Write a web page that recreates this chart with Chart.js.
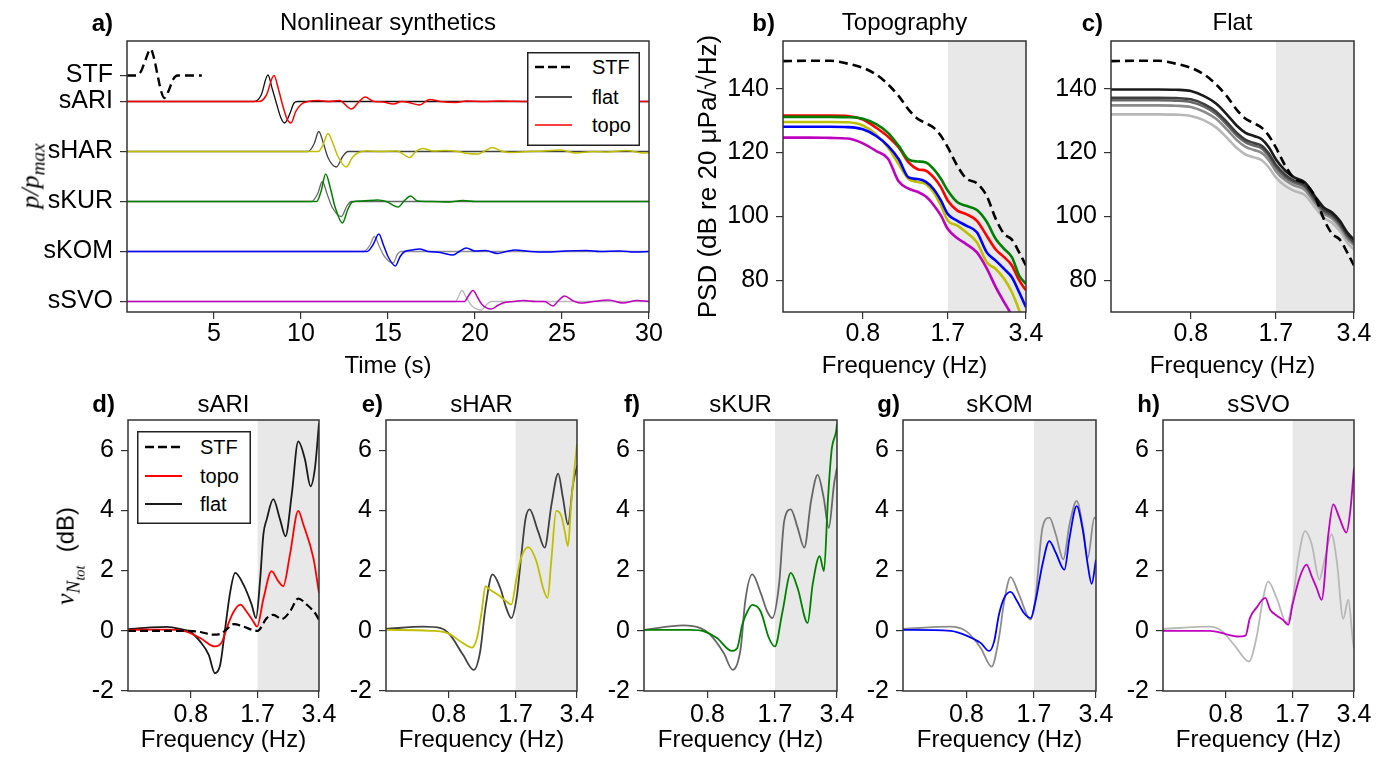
<!DOCTYPE html>
<html>
<head>
<meta charset="utf-8">
<script src="https://cdn.jsdelivr.net/npm/chart.js"></script>
<style>
  body { margin: 0; width: 1387px; height: 761px; overflow: hidden; background: #fff; position: relative;
         font-family: 'Liberation Sans', Arial, Helvetica, sans-serif; }
  canvas { position: absolute; }
  .let { position: absolute; width: 40px; text-align: right; font-size: 24px; font-weight: bold; line-height: 28.8px; }
  .ytitle { position: absolute; transform: translate(-50%, -50%) rotate(-90deg); white-space: nowrap; font-size: 24px; line-height: 28.8px; }
  .math { font-family: 'Liberation Serif', 'DejaVu Serif', serif; font-style: italic; }
  sub { font-size: 0.74em; }
  svg { position: absolute; }
</style>
</head>
<body>

<canvas id="chA" width="671" height="382" style="left:0px;top:0px"></canvas>
<canvas id="chB" width="357" height="382" style="left:691px;top:0px"></canvas>
<canvas id="chC" width="325" height="382" style="left:1051px;top:0px"></canvas>
<canvas id="chD" width="273" height="386" style="left:68px;top:375px"></canvas>
<canvas id="chE" width="273" height="386" style="left:326px;top:375px"></canvas>
<canvas id="chF" width="275" height="386" style="left:584px;top:375px"></canvas>
<canvas id="chG" width="275" height="386" style="left:843px;top:375px"></canvas>
<canvas id="chH" width="273" height="386" style="left:1103px;top:375px"></canvas>

<div class="let" style="left:73px;top:9px">a)</div>
<div class="let" style="left:735px;top:9px">b)</div>
<div class="let" style="left:1063px;top:9px">c)</div>
<div class="let" style="left:75px;top:390px">d)</div>
<div class="let" style="left:343px;top:390px">e)</div>
<div class="let" style="left:600px;top:390px">f)</div>
<div class="let" style="left:860px;top:390px">g)</div>
<div class="let" style="left:1120px;top:390px">h)</div>

<div class="ytitle math" style="left:35px;top:176px;font-size:26px">p/p<sub>max</sub></div>
<div class="ytitle" style="left:73px;top:556px"><span class="math" style="font-size:26px">ν<sub>N<sub>tot</sub></sub></span>&nbsp;&nbsp;(dB)</div>

<svg style="left:527px;top:52px" width="113" height="94">
  <rect x="0.75" y="0.75" width="111.5" height="92.5" fill="#fff" stroke="#222" stroke-width="1.5"/>
  <line x1="8" y1="15" x2="45" y2="15" stroke="#000" stroke-width="2.5" stroke-dasharray="9 4"/>
  <line x1="8" y1="45" x2="45" y2="45" stroke="#111" stroke-width="1.5"/>
  <line x1="8" y1="73" x2="45" y2="73" stroke="#f00" stroke-width="1.5"/>
  <text x="65" y="22" font-size="20" font-family="Liberation Sans, Arial, sans-serif">STF</text>
  <text x="65" y="52" font-size="20" font-family="Liberation Sans, Arial, sans-serif">flat</text>
  <text x="65" y="80" font-size="20" font-family="Liberation Sans, Arial, sans-serif">topo</text>
</svg>

<svg style="left:137px;top:431px" width="114" height="93">
  <rect x="0.75" y="0.75" width="112.5" height="91.5" fill="#fff" stroke="#222" stroke-width="1.5"/>
  <line x1="8" y1="16" x2="45" y2="16" stroke="#000" stroke-width="2.5" stroke-dasharray="9 4"/>
  <line x1="8" y1="45" x2="45" y2="45" stroke="#f00" stroke-width="1.8"/>
  <line x1="8" y1="73" x2="45" y2="73" stroke="#1a1a1a" stroke-width="1.8"/>
  <text x="63" y="23" font-size="20" font-family="Liberation Sans, Arial, sans-serif">STF</text>
  <text x="63" y="52" font-size="20" font-family="Liberation Sans, Arial, sans-serif">topo</text>
  <text x="63" y="80" font-size="20" font-family="Liberation Sans, Arial, sans-serif">flat</text>
</svg>

<script>
// ---------- data: waveforms (time s, p/pmax relative to trace baseline) ----------
const stationLabels = ['sSVO', 'sKOM', 'sKUR', 'sHAR', 'sARI', 'STF'];
const stationPos = [0, 1, 2, 3, 4, 4.52];
const timeTicks = [5, 10, 15, 20, 25, 30];

const stfWave = [[0,0],[0.55,0],[0.8,0.08],[1.05,0.3],[1.36,0.53],[1.55,0.35],[1.75,0.02],[1.95,-0.3],[2.15,-0.45],[2.4,-0.3],[2.65,-0.08],[2.9,0],[4.3,0]];

const ariFlatWave = [[0,0],[7.3,0],[7.7,0.12],[8.1,0.53],[8.35,0.25],[8.6,-0.05],[8.85,-0.33],[9.06,-0.43],[9.35,-0.25],[9.6,-0.03],[9.8,0],[30,0]];
const ariTopoWave = [[0,0],[7.6,0],[8.0,0.12],[8.45,0.52],[8.7,0.25],[8.95,-0.08],[9.2,-0.35],[9.42,-0.43],[9.7,-0.2],[10.0,-0.06],[10.4,0],[11.0,0.02],[11.6,0],[12.2,0.02],[12.9,-0.15],[13.3,-0.02],[13.68,0.09],[14.2,0],[14.7,-0.01],[15.3,-0.05],[15.8,0],[16.2,-0.02],[16.8,-0.07],[17.4,0.04],[18.0,0],[18.9,-0.02],[19.5,0.01],[20.5,0],[21.5,0.01],[23,0],[30,0]];

const harFlatWave = [[0,0],[10.4,0],[10.75,0.15],[11.02,0.4],[11.3,0.15],[11.55,-0.12],[12.03,-0.31],[12.4,-0.1],[12.7,0],[30,0]];
const harTopoWave = [[0,0],[11.0,0],[11.25,0.12],[11.55,0.36],[11.85,0.15],[12.1,-0.08],[12.6,-0.31],[12.95,-0.12],[13.3,-0.02],[13.8,0.01],[14.5,0],[15.5,0.01],[16.25,-0.12],[16.6,0],[17.0,0.06],[17.6,0.01],[18.3,0.02],[19.0,0],[19.6,-0.04],[20.2,-0.05],[20.6,0.02],[21.0,0.08],[21.5,0.01],[22.0,-0.02],[23.0,0],[24.0,0.01],[24.9,0.03],[25.8,-0.03],[26.8,0],[27.6,-0.01],[28.7,0.02],[29.7,-0.03],[30,-0.02]];

const kurFlatWave = [[0,0],[10.6,0],[10.95,0.15],[11.23,0.4],[11.5,0.15],[11.8,-0.12],[12.32,-0.3],[12.65,-0.08],[12.9,0],[30,0]];
const kurTopoWave = [[0,0],[10.9,0],[11.15,0.2],[11.42,0.55],[11.7,0.25],[11.95,-0.1],[12.38,-0.43],[12.7,-0.15],[12.95,-0.01],[13.5,0.01],[14.4,0.03],[14.9,0],[15.58,-0.11],[15.95,0.02],[16.29,0.11],[16.7,0.01],[17.5,0],[18.5,-0.01],[19.3,0.02],[20,0],[30,0]];

const komFlatWave = [[0,0],[13.6,0],[13.95,0.12],[14.22,0.3],[14.5,0.1],[14.8,-0.1],[15.29,-0.23],[15.55,-0.05],[15.75,0],[30,0]];
const komTopoWave = [[0,0],[13.8,0],[14.15,0.14],[14.47,0.35],[14.75,0.12],[15.0,-0.1],[15.42,-0.29],[15.7,-0.1],[15.96,0],[16.4,0.03],[16.8,0.05],[17.3,0],[18.0,-0.02],[18.74,-0.07],[19.1,0],[19.5,0.07],[20.0,0.01],[20.6,0.02],[21.3,-0.04],[21.8,0],[22.3,0.03],[23.2,0],[24.1,-0.01],[25.2,0.01],[26.4,0.02],[27.2,0],[28.3,0.01],[29.2,-0.01],[30,0]];

const svoFlatWave = [[0,0],[18.9,0],[19.05,0.1],[19.25,0.22],[19.5,0.08],[19.8,-0.08],[20.37,-0.17],[20.7,-0.05],[20.94,0],[30,0]];
const svoTopoWave = [[0,0],[19.4,0],[19.6,0.1],[19.89,0.22],[20.15,0.08],[20.4,-0.06],[20.94,-0.15],[21.3,-0.08],[21.6,-0.03],[22.2,0],[22.8,0.02],[23.5,0],[24.0,0],[24.48,-0.09],[24.8,0.02],[25.15,0.11],[25.6,0.02],[26.05,-0.03],[26.8,0],[27.67,0.03],[28.5,-0.03],[29.3,0.02],[30,0]];

// ---------- data: PSD spectra (dB) ----------
const freqTicks = [0.8, 1.7, 3.4];
const shadeBand = [1.7, 3.4];
const psdTicks = [80, 100, 120, 140];
const nuTicks = [-2, 0, 2, 4, 6];

const psdFreq = [0.394,0.5,0.6,0.7,0.8,0.9,1.0,1.1,1.2,1.3,1.4,1.5,1.6,1.7,1.85,2.0,2.2,2.4,2.6,2.8,3.0,3.2,3.4];
const psdStf     = [148.7,148.8,148.8,147.9,146.6,144.5,141.4,137.7,133.5,130.6,129.2,127.8,125.2,121.6,115.8,111.9,110.4,106.4,99.2,94.5,92.7,88.7,84.6];
const psdTopoARI = [131.6,131.6,131.6,131.5,130.4,127.8,125.0,121.6,116.9,114.8,114.3,112.2,109.1,104.9,101.8,100.7,98.6,93.9,89.6,87.2,84.6,79.9,76.8];
const psdTopoHAR = [129.6,129.6,129.6,129.5,128.5,125.7,121.6,116.3,111.7,110.8,110.1,107.5,103.3,98.6,97.1,95.0,91.9,85.6,83.5,80.4,76.2,70.5,64.0];
const psdTopoKUR = [131.2,131.2,131.2,131.1,130.6,128.9,126.2,122.1,117.8,117.2,116.9,114.8,111.7,108.0,104.4,103.3,102.0,98.3,92.9,89.8,87.2,81.4,78.8];
const psdTopoKOM = [128.1,128.1,128.1,128.0,127.3,125.2,122.1,117.9,112.2,111.7,110.8,108.5,104.9,100.7,98.6,97.1,95.0,88.7,86.1,83.5,80.9,76.2,71.5];
const psdTopoSVO = [124.7,124.7,124.6,124.4,122.9,120.5,118.1,110.9,108.7,107.7,106.2,103.5,100.2,96.0,93.1,91.3,88.7,83.7,77.8,73.1,68.9,64.0,60.0];

const psdFlatARI = [139.8,139.8,139.8,139.7,139.3,137.7,135.4,132.0,128.5,126.2,125.2,124.2,121.6,117.9,114.3,112.2,110.6,106.4,102.8,101.2,98.6,95.0,92.7];
const psdFlatHAR = [137.2,137.2,137.2,137.1,136.7,135.2,132.9,129.6,126.2,124.0,123.0,122.1,119.6,116.2,113.0,111.2,109.7,105.6,102.1,100.5,97.9,94.3,92.0];
const psdFlatKUR = [136.4,136.4,136.4,136.3,135.9,134.4,132.1,128.8,125.4,123.2,122.2,121.3,118.8,115.4,112.3,110.6,109.2,105.1,101.6,100.0,97.4,93.8,91.5];
const psdFlatKOM = [134.8,134.8,134.8,134.7,134.3,132.8,130.6,127.3,124.0,121.8,120.8,119.9,117.5,114.2,111.3,109.7,108.3,104.3,100.9,99.3,96.7,93.1,90.9];
const psdFlatSVO = [132.0,132.0,132.0,131.9,131.5,130.1,127.9,124.7,121.5,119.4,118.5,117.6,115.3,112.2,109.5,108.0,106.7,102.9,99.6,98.0,95.4,91.8,89.6];

// ---------- data: nu_Ntot (dB) vs frequency (Hz) ----------
const nuStf = [[0.394,0],[0.74,0],[0.89,-0.04],[1.03,-0.13],[1.12,-0.1],[1.2,0.05],[1.3,0.22],[1.45,0.14],[1.6,0.03],[1.7,0],[1.885,0.42],[2.03,0.53],[2.23,0.39],[2.45,0.64],[2.69,1.07],[2.96,0.87],[3.25,0.59],[3.4,0.37]];

const nuTopoARI = [[0.394,0.03],[0.6,0.04],[0.74,0],[0.89,-0.24],[1.05,-0.52],[1.14,-0.36],[1.2,0.09],[1.3,0.64],[1.4,0.87],[1.5,0.64],[1.62,0.31],[1.69,0.14],[1.82,1.09],[1.99,1.98],[2.15,1.64],[2.27,1.48],[2.45,2.53],[2.69,3.98],[2.85,3.53],[3.19,2.42],[3.4,1.26]];
const nuFlatARI = [[0.394,0.05],[0.51,0.11],[0.61,0.13],[0.74,0.03],[0.79,-0.02],[0.89,-0.36],[0.98,-0.8],[1.05,-1.41],[1.115,-1.13],[1.18,0.09],[1.25,1.31],[1.32,1.92],[1.45,1.53],[1.59,0.87],[1.67,0.42],[1.75,1.7],[1.815,3.2],[1.885,3.7],[2.03,4.37],[2.19,3.7],[2.33,3.14],[2.5,4.53],[2.69,6.29],[2.9,5.7],[3.09,4.8],[3.25,5.42],[3.4,6.89]];

const nuTopoHAR = [[0.394,0.03],[0.65,0],[0.79,-0.08],[0.94,-0.41],[1.04,-0.56],[1.1,-0.24],[1.16,0.64],[1.21,1.48],[1.27,1.37],[1.43,1.14],[1.53,0.98],[1.62,0.87],[1.72,1.76],[1.81,2.42],[1.96,2.78],[2.15,2.31],[2.32,1.42],[2.44,1.09],[2.55,2.42],[2.69,3.98],[2.85,3.81],[2.96,3.31],[3.07,2.81],[3.19,4.31],[3.4,6.2]];
const nuFlatHAR = [[0.394,0.06],[0.6,0.14],[0.73,0.09],[0.81,-0.13],[0.94,-0.8],[1.06,-1.3],[1.14,-0.69],[1.21,0.76],[1.31,1.87],[1.43,1.42],[1.53,0.76],[1.62,0.42],[1.72,1.09],[1.82,2.6],[1.9,3.7],[1.99,4.03],[2.19,3.31],[2.36,2.76],[2.55,4.2],[2.75,5.22],[2.9,4.42],[3.07,3.53],[3.25,4.87],[3.4,5.48]];

const nuTopoKUR = [[0.394,0.03],[0.66,0.03],[0.77,-0.02],[0.89,-0.24],[1.05,-0.67],[1.115,-0.58],[1.18,0.2],[1.25,0.64],[1.32,0.86],[1.45,0.64],[1.59,-0.24],[1.7,-0.52],[1.85,0.64],[2.03,1.92],[2.19,1.42],[2.45,0.26],[2.59,1.53],[2.8,2.48],[2.94,1.98],[3.07,4.31],[3.2,5.98],[3.37,6.64],[3.4,6.87]];
const nuFlatKUR = [[0.394,0.03],[0.61,0.18],[0.74,0.09],[0.82,-0.11],[0.96,-0.74],[1.06,-1.3],[1.16,-0.58],[1.22,0.98],[1.32,1.87],[1.45,1.26],[1.56,0.64],[1.65,0.42],[1.78,1.53],[1.885,3.64],[2.03,4.03],[2.19,3.42],[2.36,2.76],[2.545,4.31],[2.74,5.18],[2.93,4.42],[3.1,3.42],[3.29,4.87],[3.4,5.42]];

const nuTopoKOM = [[0.394,0.03],[0.67,0],[0.8,-0.16],[0.94,-0.41],[1.03,-0.67],[1.09,-0.36],[1.15,0.53],[1.22,1.09],[1.31,1.29],[1.41,0.98],[1.52,0.59],[1.64,0.42],[1.73,0.98],[1.87,2.2],[2.02,2.98],[2.17,2.59],[2.39,2.03],[2.53,3.09],[2.74,4.14],[2.94,3.31],[3.1,2.2],[3.24,1.56],[3.4,2.37]];
const nuFlatKOM = [[0.394,0.06],[0.67,0.14],[0.8,-0.02],[0.94,-0.58],[1.06,-1.19],[1.15,-0.24],[1.22,0.98],[1.31,1.78],[1.44,1.2],[1.64,0.37],[1.73,1.09],[1.87,3.42],[2.02,3.76],[2.17,3.2],[2.36,2.37],[2.53,3.53],[2.74,4.31],[2.94,3.42],[3.1,2.42],[3.34,3.76],[3.4,3.7]];

const nuTopoSVO = [[0.394,0],[0.67,0],[0.8,-0.11],[0.91,-0.19],[1.0,-0.16],[1.05,0.42],[1.13,0.76],[1.25,1.09],[1.32,0.7],[1.42,0.51],[1.52,0.37],[1.62,0.2],[1.7,0.87],[1.85,1.81],[1.99,2.2],[2.11,1.81],[2.23,1.42],[2.36,1.03],[2.545,3.2],[2.69,4.2],[2.88,3.76],[3.12,3.26],[3.26,3.98],[3.4,5.42]];
const nuFlatSVO = [[0.394,0.06],[0.67,0.14],[0.77,-0.02],[0.88,-0.47],[1.04,-1.02],[1.13,-0.24],[1.22,1.09],[1.29,1.64],[1.42,1.09],[1.59,0.26],[1.7,0.98],[1.815,2.42],[1.96,3.31],[2.11,2.87],[2.3,1.7],[2.45,2.42],[2.64,3.2],[2.8,2.31],[3.01,0.4],[3.19,1.03],[3.34,-0.2],[3.4,-0.6]];

// colours
const cRed = '#ff0000', cYel = '#bfbf00', cGrn = '#008000', cBlu = '#0000ff', cMag = '#bf00bf';
const gARI = '#1a1a1a', gHAR = '#404040', gKUR = '#666666', gKOM = '#8c8c8c', gSVO = '#b8b8b8';

Chart.defaults.font.family = "'Liberation Sans', Arial, Helvetica, sans-serif";
Chart.defaults.font.size = 25;
Chart.defaults.color = '#000';

// shading of the 1.7-3.4 Hz band and the box around each plot
const frame = {
  id: 'frame',
  beforeDatasetsDraw(chart, args, opts) {
    if (opts && opts.shade) {
      const {ctx, chartArea: a, scales: {x}} = chart;
      const x0 = x.getPixelForValue(opts.shade[0]);
      const x1 = x.getPixelForValue(opts.shade[1]);
      ctx.save();
      ctx.fillStyle = '#e8e8e8';
      ctx.fillRect(x0, a.top, x1 - x0, a.bottom - a.top);
      ctx.restore();
    }
  },
  afterDraw(chart) {
    const {ctx, chartArea: a} = chart;
    ctx.save();
    ctx.strokeStyle = '#333';
    ctx.lineWidth = 1.5;
    ctx.strokeRect(a.left, a.top, a.right - a.left, a.bottom - a.top);
    ctx.restore();
  }
};

const tickGrid = {display: true, drawOnChartArea: false, drawTicks: true, tickLength: 7, color: '#333', lineWidth: 1.2};

function line(pairs, color, width, offset, dash) {
  return {
    data: pairs.map(p => ({x: p[0], y: p[1] + (offset || 0)})),
    borderColor: color, borderWidth: width, borderDash: dash || [],
    pointRadius: 0, cubicInterpolationMode: 'monotone', fill: false
  };
}

function psdLine(values, color, dash) {
  return line(psdFreq.map((f, i) => [f, values[i]]), color, 2.6, 0, dash);
}

function freqAxis(tickPad, titlePad) {
  return {
    type: 'logarithmic', min: 0.394, max: 3.4,
    afterBuildTicks: s => { s.ticks = freqTicks.map(v => ({value: v})); },
    afterFit: s => { s.height = 70; },
    ticks: {autoSkip: false, maxRotation: 0, padding: tickPad, callback: v => String(v)},
    title: {display: true, text: 'Frequency (Hz)', font: {size: 24}, padding: {top: 0, bottom: titlePad}},
    grid: tickGrid, border: {display: false}
  };
}

function valueAxis(min, max, ticks, width, title, titlePad) {
  return {
    type: 'linear', min: min, max: max,
    afterBuildTicks: s => { s.ticks = ticks.map(v => ({value: v})); },
    afterFit: s => { s.width = width; },
    ticks: {autoSkip: false, padding: 7},
    title: {display: !!title, text: title || '', font: {size: 26}, padding: {top: titlePad || 0, bottom: 0}},
    grid: tickGrid, border: {display: false}
  };
}

function panel(id, title, titlePad, xScale, yScale, datasets, shade) {
  return new Chart(document.getElementById(id), {
    type: 'line',
    data: {datasets: datasets},
    options: {
      responsive: false, animation: false, events: [],
      layout: {padding: {left: 0, right: 22, top: 0, bottom: 0}, autoPadding: false},
      scales: {x: xScale, y: yScale},
      plugins: {
        legend: {display: false}, tooltip: {enabled: false},
        title: {display: true, text: title, fullSize: false, color: '#000',
                font: {size: 24, weight: 'normal'}, padding: titlePad},
        frame: {shade: shade}
      }
    },
    plugins: [frame]
  });
}

const topPad = {top: 8.6, bottom: 3.6};
const lowPad = {top: 15.6, bottom: 0.6};

// a) waveforms
panel('chA', 'Nonlinear synthetics', topPad,
  {
    type: 'linear', min: 0, max: 30,
    afterBuildTicks: s => { s.ticks = timeTicks.map(v => ({value: v})); },
    afterFit: s => { s.height = 70; },
    ticks: {autoSkip: false, maxRotation: 0, padding: 0},
    title: {display: true, text: 'Time (s)', font: {size: 24}, padding: {top: 0, bottom: 1.6}},
    grid: tickGrid, border: {display: false}
  },
  {
    type: 'linear', min: -0.21, max: 5.21,
    afterBuildTicks: s => { s.ticks = stationPos.map(v => ({value: v})); },
    afterFit: s => { s.width = 127; },
    ticks: {autoSkip: false, padding: 7, callback: (v, i) => stationLabels[i]},
    grid: tickGrid, border: {display: false}
  },
  [
    line(ariTopoWave, cRed, 1.5, 4),
    line(harTopoWave, cYel, 1.5, 3),
    line(kurTopoWave, cGrn, 1.5, 2),
    line(komTopoWave, cBlu, 1.5, 1),
    line(svoTopoWave, cMag, 1.5, 0),
    line(ariFlatWave, '#111111', 1.3, 4),
    line(harFlatWave, gHAR, 1.3, 3),
    line(kurFlatWave, gKUR, 1.3, 2),
    line(komFlatWave, gKOM, 1.3, 1),
    line(svoFlatWave, gSVO, 1.3, 0),
    line(stfWave, '#000', 2.4, 4.52, [9, 5])
  ], null);

// b) topography PSD
panel('chB', 'Topography', topPad, freqAxis(0, 1.6),
  valueAxis(70, 155, psdTicks, 92, 'PSD (dB re 20 μPa/√Hz)', 2),
  [
    psdLine(psdStf, '#000', [9, 5]),
    psdLine(psdTopoKUR, cGrn),
    psdLine(psdTopoARI, cRed),
    psdLine(psdTopoKOM, cBlu),
    psdLine(psdTopoHAR, cYel),
    psdLine(psdTopoSVO, cMag)
  ], shadeBand);

// c) flat PSD
panel('chC', 'Flat', topPad, freqAxis(0, 1.6),
  valueAxis(70, 155, psdTicks, 60),
  [
    psdLine(psdStf, '#000', [9, 5]),
    psdLine(psdFlatARI, gARI),
    psdLine(psdFlatHAR, gHAR),
    psdLine(psdFlatKUR, gKUR),
    psdLine(psdFlatKOM, gKOM),
    psdLine(psdFlatSVO, gSVO)
  ], shadeBand);

// d)-h) nu_Ntot per station
panel('chD', 'sARI', lowPad, freqAxis(2, 6.6), valueAxis(-2, 7, nuTicks, 60),
  [line(nuStf, '#000', 2.2, 0, [8, 4]), line(nuTopoARI, cRed, 1.8), line(nuFlatARI, gARI, 1.8)], shadeBand);
panel('chE', 'sHAR', lowPad, freqAxis(2, 6.6), valueAxis(-2, 7, nuTicks, 60),
  [line(nuTopoHAR, cYel, 1.8), line(nuFlatHAR, gHAR, 1.8)], shadeBand);
panel('chF', 'sKUR', lowPad, freqAxis(2, 6.6), valueAxis(-2, 7, nuTicks, 60),
  [line(nuTopoKUR, cGrn, 1.8), line(nuFlatKUR, gKUR, 1.8)], shadeBand);
panel('chG', 'sKOM', lowPad, freqAxis(2, 6.6), valueAxis(-2, 7, nuTicks, 60),
  [line(nuTopoKOM, cBlu, 1.8), line(nuFlatKOM, gKOM, 1.8)], shadeBand);
panel('chH', 'sSVO', lowPad, freqAxis(2, 6.6), valueAxis(-2, 7, nuTicks, 60),
  [line(nuTopoSVO, cMag, 1.8), line(nuFlatSVO, gSVO, 1.8)], shadeBand);
</script>
</body>
</html>
